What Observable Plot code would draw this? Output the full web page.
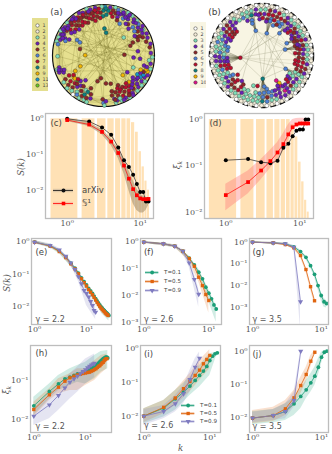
<!DOCTYPE html>
<html><head><meta charset="utf-8">
<script src="https://cdn.jsdelivr.net/npm/d3@7"></script>
<script src="https://cdn.jsdelivr.net/npm/@observablehq/plot@0.6"></script>
<style>
html,body{margin:0;padding:0;background:#fff}
#root{position:relative;width:332px;height:454px;overflow:hidden;background:#fff}
#root>svg,#root>div{position:absolute}
.lab{font-family:"DejaVu Serif",serif;font-style:italic;font-size:8.5px;color:#555;white-space:nowrap;line-height:1}
.let{font-family:"DejaVu Sans",sans-serif;font-size:9px;color:#444;line-height:1}
</style></head><body><div id="root"></div>
<script>
// ---------- network (a): [angle deg, radius, class]
const classesA=[1,2,3,4,5,6,7,8,9,11,13];
const classesB=[1,2,3,4,5,6,7,8,9,10];
const classColors=["#ffffff","#f4ecd8","#7fdcb8","#6a1fb5","#8c2828","#4f82d6","#b8102e","#0d8080","#f0b400","#1596cc","#6cc81e","#e0108a"];
const classOrder=[1,2,3,4,5,6,7,8,9,11,13,10];
const nodesA=[[22,.93,4],[25,.85,5],[27,.95,4],[30,.88,4],[33,.93,3],[35,.82,5],[37,.96,4],[39,.87,4],[42,.92,6],[44,.8,6],[46,.95,3],[48,.88,4],[50,.93,4],[52,.78,5],[54,.96,3],[56,.86,4],[58,.91,4],[60,.97,3],[62,.82,6],[64,.9,4],[66,.95,3],[68,.87,4],[70,.8,4],[72,.94,6],[74,.86,5],[76,.97,3],[78,.9,5],[80,.84,7],[82,.95,4],[84,.88,8],[86,.8,8],[88,.95,11],[90,.88,8],[92,.96,3],[94,.84,5],[96,.92,7],[98,.85,7],[100,.95,4],[102,.88,5],[104,.8,7],[106,.94,4],[108,.86,7],[110,.97,3],[112,.9,5],[114,.82,5],[116,.93,4],[118,.86,5],[120,.96,4],[122,.78,7],[124,.9,7],[126,.84,5],[128,.95,4],[130,.88,7],[132,.8,5],[134,.93,4],[136,.86,7],[138,.96,3],[140,.9,4],[142,.82,7],[144,.94,4],[146,.87,5],[148,.92,4],[150,.97,3],[152,.88,4],[154,.93,4],[156,.82,4],[158,.95,3],[160,.9,4],[163,.96,3],[166,.92,6],[195,.9,4],[197,.95,3],[199,.88,4],[201,.93,4],[203,.85,4],[210,.78,7],[212,.88,5],[214,.94,3],[216,.72,9],[218,.82,7],[220,.9,5],[222,.96,3],[224,.78,7],[226,.87,5],[228,.93,3],[230,.8,4],[232,.97,1],[234,.88,3],[236,.93,6],[238,.82,5],[240,.96,3],[242,.9,5],[244,.85,8],[246,.95,3],[248,.9,5],[250,.97,3],[253,.88,4],[269,.86,5],[270,.93,6],[271,.98,3],[273,.9,4],[282,.8,5],[284,.88,4],[285,.96,3],[287,.92,4],[290,.84,5],[292,.95,3],[294,.78,7],[296,.88,7],[298,.94,4],[300,.82,5],[302,.97,3],[304,.9,7],[306,.85,7],[308,.93,4],[310,.78,7],[312,.88,5],[314,.96,3],[316,.83,9],[318,.92,4],[320,.86,4],[322,.95,3],[324,.8,4],[326,.9,4],[328,.96,3],[330,.84,11],[332,.91,4],[334,.87,11],[336,.95,4],[338,.85,5],[340,.92,9],[342,.88,9],[344,.96,3],[346,.82,4],[350,.94,4],[354,.9,3],[358,.96,3],[3,.93,4],[10,.92,5],[14,.95,4],[18,.88,5],
[83.5,.45,8],[88,.53,8],[91,.77,8],[41.6,.53,3],[2,.41,5],[7,.68,4],[356,.59,4],[355,.72,4],[179,.36,9],[164.5,.48,5],[205,.5,9],[208.7,.63,9],[181,.9,3],[149.6,.6,6],[151,.53,6],[224,.7,13],[263.5,.45,5],[257,.52,5],[228,.67,4],[234,.6,4],[284.5,.57,5],[275,.55,5],[314.5,.54,9],[314,.72,9],[296,.65,5],[338,.63,3],[325,.57,4],[20,.56,5],[24,.63,5],[29,.75,5],[249,.69,5],
[24,.74,5],[28,.8,5],[32,.72,4],[38,.77,6],[47,.72,4],[55,.76,4],[63,.7,6],[69,.74,5],[77,.78,7],[95,.74,7],[99,.77,5],[103,.7,7],[107,.75,5],[111,.78,7],[115,.71,5],[119,.74,7],[125,.72,7],[129,.76,5],[133,.7,4],[137,.75,7],[141,.73,4],[145,.77,4],[155,.74,4],[159,.8,6],[213,.7,7],[219,.72,9],[223,.68,7],[227,.76,5],[233,.74,4],[237,.72,5],[243,.76,3],[247,.78,8],[252,.8,5],[283,.72,5],[288,.76,5],[293,.7,7],[297,.74,7],[301,.72,5],[305,.76,7],[309,.7,7],[311,.84,4],[315,.8,4],[319,.76,4],[323,.72,4],[327,.8,4],[331,.76,11],[335,.8,4],[339,.78,9],[345,.88,4],[200,.82,4],[198,.92,4],[285,.9,5],[291,.9,3],[295,.96,4],[303,.93,5],[307,.97,4],[60,.86,4],[34,.9,4],[45,.9,4],[57,.95,4],[65,.93,4],[71,.88,4],[87,.92,8],[101,.9,7],[105,.86,5],[109,.91,4],[117,.89,7],[121,.86,5],[127,.9,4],[131,.94,4],[135,.9,5],[143,.88,4],[147,.95,4],[153,.9,4],[157,.87,4]];
// chords of (a): [angle1, radius1, angle2, radius2]
const linksA=[[160,.9,340,.85],[130,.85,300,.85],[120,.8,320,.85],[100,.85,290,.8],[110,.85,315,.75],[140,.85,20,.7],[150,.88,40,.85],[165,.5,2,.41],[179,.36,2,.41],[179,.36,60,.85],[179,.36,100,.85],[179,.36,300,.8],[205,.5,2,.41],[205,.5,30,.85],[164.5,.48,40,.9],[164.5,.48,290,.85],[215,.7,45,.85],[225,.8,70,.85],[235,.85,60,.85],[245,.9,35,.85],[222,.8,110,.85],[200,.9,50,.9],[200,.9,340,.85],[195,.9,20,.9],[181,.9,80,.9],[181,.9,330,.85],[166,.9,5,.9],[263.5,.45,80,.85],[263.5,.45,125,.85],[257,.52,60,.85],[275,.55,100,.9],[284.5,.57,130,.9],[296,.65,110,.85],[314.5,.54,120,.85],[314,.72,145,.85],[325,.57,155,.88],[338,.63,135,.9],[355,.72,150,.9],[7,.68,160,.9],[20,.56,240,.85],[29,.75,225,.85],[41.6,.53,235,.85],[52,.78,250,.9],[70,.8,255,.85],[88,.53,270,.86],[83.5,.45,285,.85],[91,.77,290,.85],[105,.85,269,.86],[90,.85,305,.9],[75,.85,320,.9],[55,.85,300,.85],[115,.85,230,.85],[135,.85,245,.9],[60,.9,210,.8],[45,.85,335,.88],[25,.85,300,.8],[15,.9,280,.85],[125,.85,215,.8],[145,.85,350,.9],[170,.9,315,.8]];
// ---------- network (b)
const nodesB=[[0,.96,1],[1,.88,3],[2,.8,4],[3,.72,5],[6,.97,2],[7,.9,3],[8,.82,4],[9,.75,7],[12,.97,1],[13,.89,3],[14,.82,5],[15,.75,4],[16,.67,5],[19,.96,2],[20,.9,4],[21,.82,7],[22,.74,5],[25,.97,1],[26,.88,3],[27,.8,4],[28,.72,5],[31,.96,2],[32,.88,3],[33,.8,4],[34,.7,4],[37,.97,1],[38,.9,3],[39,.82,5],[40,.73,7],[43,.96,2],[44,.88,3],[45,.8,4],[46,.72,4],[49,.97,1],[50,.89,3],[51,.8,4],[54,.96,2],[55,.88,4],[56,.8,5],[57,.72,6],[60,.97,1],[61,.89,3],[62,.8,7],[63,.72,6],[66,.96,2],[67,.88,7],[68,.8,5],[69,.62,6],[72,.97,1],[73,.89,4],[74,.8,7],[75,.72,6],[78,.96,2],[79,.88,5],[80,.8,7],[81,.7,5],[84,.97,1],[85,.89,3],[86,.8,4],[90,.96,2],[91,.88,3],[92,.8,7],[93,.7,4],[96,.97,1],[97,.89,4],[98,.8,4],[102,.96,2],[103,.88,3],[104,.8,8],[105,.7,6],[108,.97,1],[109,.88,3],[110,.8,3],[114,.96,2],[115,.88,3],[116,.8,6],[120,.97,1],[121,.88,2],[122,.8,3],[126,.96,2],[127,.88,3],[132,.97,1],[133,.88,4],[134,.8,4],[135,.72,4],[138,.96,2],[139,.88,5],[140,.8,7],[141,.72,5],[144,.97,1],[145,.89,4],[146,.81,5],[147,.73,7],[150,.96,2],[151,.88,3],[152,.8,4],[153,.72,4],[156,.97,1],[157,.89,3],[158,.81,6],[162,.96,2],[163,.88,6],[164,.8,3],[165,.72,6],[168,.97,1],[169,.89,3],[170,.81,3],[171,.73,3],[174,.96,2],[175,.88,3],[176,.8,6],[180,.97,1],[181,.89,4],[182,.81,4],[183,.73,6],[186,.96,2],[187,.88,4],[188,.8,4],[189,.72,4],[192,.97,1],[193,.89,3],[194,.81,7],[195,.73,7],[198,.96,2],[199,.88,3],[200,.8,6],[201,.71,7],[204,.97,1],[205,.89,3],[206,.81,3],[210,.96,2],[211,.88,3],[212,.8,4],[213,.72,6],[216,.97,1],[217,.89,3],[218,.81,4],[219,.59,7],[222,.96,2],[223,.88,4],[224,.8,5],[225,.72,7],[228,.97,1],[229,.89,3],[230,.81,5],[232.5,.62,4],[234,.96,2],[235,.88,3],[236,.8,7],[237,.72,7],[240,.97,1],[241,.89,3],[242,.81,4],[246,.96,2],[247,.88,3],[248,.8,3],[252,.97,1],[253,.89,3],[254,.8,3],[255,.6,3],[258,.96,2],[259,.88,3],[260,.8,3],[262.6,.59,7],[264,.97,1],[265,.89,3],[266,.81,3],[270,.96,2],[271,.88,8],[272,.8,6],[273,.45,8],[274,.72,6],[276,.97,1],[277,.89,6],[278,.81,5],[279,.65,6],[282,.96,2],[283,.88,3],[284,.8,6],[288,.97,1],[289,.89,3],[290,.81,4],[294,.96,2],[295,.88,4],[296,.8,4],[297,.72,4],[300,.97,1],[300.5,.56,10],[301,.89,4],[302,.68,10],[303,.63,9],[304,.81,10],[306,.96,2],[307,.88,4],[308,.8,4],[312,.97,1],[313,.89,3],[314,.81,5],[315,.72,7],[318,.96,2],[319,.88,3],[320,.8,4],[321,.7,4],[324,.97,1],[325,.89,3],[326,.81,4],[327,.72,3],[330,.96,2],[331,.53,6],[332,.88,3],[333,.8,3],[336,.97,1],[337,.89,4],[338,.81,5],[342,.96,2],[343,.88,5],[344,.8,7],[345,.72,7],[348,.97,1],[349,.89,4],[350,.81,7],[351,.72,7],[354,.96,2],[355,.88,3],[356,.8,5],[186,.41,7],[103,.49,6],[76.6,.44,6],[51,.55,6],[26,.54,6],[14,.47,6],
[4,.65,7],[11,.7,5],[17,.72,4],[23,.68,5],[29,.66,4],[35,.76,5],[41,.67,7],[47,.66,4],[58,.66,6],[64,.66,5],[70,.72,7],[76,.68,6],[82,.66,4],[88,.72,7],[94,.78,4],[106,.64,6],[112,.72,4],[128,.8,4],[136,.66,7],[142,.66,5],[148,.66,7],[154,.66,4],[159,.73,4],[166,.66,6],[172,.66,6],[178,.72,3],[184,.66,4],[190,.66,4],[196,.66,7],[202,.64,7],[207,.73,3],[214,.66,6],[220,.72,5],[226,.66,7],[238,.66,5],[243,.73,3],[249,.72,3],[261,.72,3],[267,.73,6],[275,.6,6],[281,.72,6],[287,.72,6],[291,.72,4],[298,.66,4],[305,.72,4],[309,.72,4],[316,.66,7],[322,.64,4],[328,.64,3],[334,.72,3],[339,.72,5],[346,.66,7],[352,.66,7],[357,.72,5]];
// hub fans of (b): hub angle, hub radius, rim angles
const fanHubs=[[186,.41],[103,.49],[76.6,.44],[51,.55],[26,.54],[14,.47],[331,.53],[273,.45],[300.5,.56]];
const fanTargets=[[170,174,177,180,182,184,186,188,190,193,197],[100,102,104,106,108,111],[72,74,76,78,80,83],[47,49,51,53,55],[20,22,24,27,30],[8,10,12,14,16,18],[326,328,331,334,336],[266,268,270,272,274,276,278,280],[295,298,301,304]];
const chordsB=[[186,.41,273,.45],[103,.49,273,.45],[76.6,.44,331,.53],[76.6,.44,273,.45],[186,.41,14,.47],[103,.49,186,.41],[51,.55,186,.41],[26,.54,262.6,.59],[14,.47,273,.45],[331,.53,273,.45],[51,.55,273,.45],[186,.41,76.6,.44],[103,.49,331,.53],[219,.59,76.6,.44],[232.5,.62,103,.49],[300.5,.56,76.6,.44],[186,.41,331,.53]];

// ---------- degree histogram (shared by c, d)
const histK=[1,2,3,4,5,6,7,8,9,10,11,12,13];
const histP=[1,1,1,1,1,1,1,.78,.42,.12,.045,.018,.01];
// ---------- (c)
const cBlack=[1,.84,.57,.355,.158,.069,.045,.027,.015,.0089,.0089,.0048,.0048];
const cRed=[.92,.69,.43,.23,.11,.049,.021,.0107,.0072,.0059,.0056,.0056,.0057];
const cHi=[1,.77,.5,.275,.144,.068,.0355,.0186,.011,.0079,.0068,.0063,.0061];
const cLo=[.84,.61,.355,.179,.079,.0288,.0098,.0042,.0027,.0023,.0023,.0027,.0037];
// ---------- (d)
const dBlack=[.132,.14,.12,.114,.128,.245,.30,.437,.57,.61,.61,1,1];
const dRed=[.0233,.0445,.079,.126,.194,.294,.477,.68,.78,.82,.82,.82,.82];
const dHi=[.04,.0775,.137,.216,.32,.5,.77,1,1.05,1.07,1.07,1.05,1.03];
const dLo=[.0107,.0245,.05,.087,.132,.215,.34,.585,.69,.72,.75,.75,.75];
// ---------- (e) gamma 2.2
const e1=[.96,.74,.51,.335,.215,.152,.107,.076,.058,.046,.036,.03,.0255,.021,.0175,.0148,.0128,.0112,.0099,.009,.0082,.0076,.007,.0065,.0061,.0057,.0053];
const e5=[.95,.72,.49,.32,.205,.144,.101,.071,.054,.0425,.033,.0275,.023,.019,.0158,.0133,.0115,.01,.0089,.0081,.0074,.0069,.0063,.0059,.0056,.0053];
const e9=[.95,.75,.55,.353,.22,.137,.083,.05,.031,.025,.0195,.0143,.0107,.0075,.0067];
const eBandK1=[1,2,3,5,7,10,15,20,27], eBandK5=[1,2,3,5,7,10,15,20,26], eBandK9=[1,2,3,5,7,10,15];
const e1Hi=[1.07,.81,.57,.24,.128,.054,.0194,.0102,.0064], e1Lo=[.85,.63,.42,.17,.084,.033,.0123,.0059,.0036];
const e5Hi=[1.05,.79,.55,.23,.12,.048,.018,.0095,.0064], e5Lo=[.87,.65,.44,.18,.09,.037,.0137,.0071,.0047];
const e9Hi=[1.05,.85,.62,.26,.114,.035,.0107], e9Lo=[.87,.65,.47,.18,.059,.0107,.004];
// ---------- (f) gamma 2.6
const f1=[.945,.83,.67,.437,.24,.135,.072,.041,.02,.012,.0074,.0044,.0031];
const f5=[.945,.83,.67,.437,.232,.12,.047,.023,.0107,.0064];
const f9=[.945,.83,.67,.437,.16,.039,.011];
const fK1=[1,3,5,7,10,13], fK5=[1,3,5,7,10], fK9=[1,3,4,5,6,7];
const f1Hi=[1.03,.75,.285,.096,.0163,.0041], f1Lo=[.87,.6,.196,.054,.0058,.001];
const f5Hi=[1.03,.75,.285,.072,.0113], f5Lo=[.87,.6,.18,.031,.0022];
const f9Hi=[1.03,.75,.504,.226,.063,.0174], f9Lo=[.87,.6,.348,.111,.0174,.0036];
// ---------- (g) gamma 3.5
const g1=[1,.93,.84,.61,.37,.2,.083,.033,.01,.0035,.0018,.0015];
const g5=[1,.93,.78,.55,.243,.055,.0089,.002];
const g9=[1,.93,.84,.59,.0018];
const gK1=[1,3,4,5,6,7,8,9,10,11,12], gK5=[1,3,4,5,6,7,8], gK9=[1,3,4,5];
const g1Hi=[1.07,.93,.7,.44,.24,.1,.041,.0143,.0049,.0026,.002], g1Lo=[.93,.75,.49,.3,.158,.063,.0243,.0065,.002,.001,.00093];
const g5Hi=[1.07,.93,.65,.31,.07,.012,.0029], g5Lo=[.93,.7,.46,.19,.041,.0065,.0014];
const g9Hi=[1.07,.93,.7,.0029], g9Lo=[.93,.75,.49,.0001];
// ---------- (h) gamma 2.2
const h1=[.0227,.0525,.082,.11,.122,.134,.148,.15,.163,.17,.18,.19,.2,.21,.23,.24,.255,.28,.3,.32,.34,.36,.37,.385,.39,.39,.375];
const h5=[.0183,.0433,.0676,.096,.117,.129,.139,.145,.151,.155,.16,.163,.173,.18,.19,.2,.215,.23,.24,.26,.28,.29,.32,.34,.36,.36];
const h9=[.0124,.024,.0417,.065,.091,.11,.129,.15,.17,.187,.21,.23,.25,.265,.275];
const h1Hi=[.0377,.082,.134,.2,.24,.29,.43,.55,.58], h1Lo=[.0129,.034,.056,.075,.09,.082,.11,.163,.2];
const h5Hi=[.028,.0614,.11,.148,.2,.2,.32,.43,.47], h5Lo=[.0117,.031,.046,.056,.056,.075,.1,.148,.2];
const h9Hi=[.019,.046,.075,.148,.22,.355,.47], h9Lo=[.0072,.0106,.0172,.034,.05,.082,.12];
// ---------- (i) gamma 2.6
const i1=[.0102,.0176,.033,.052,.079,.116,.163,.219,.30,.45,.607,.71,.76];
const i5=[.0102,.0185,.035,.066,.108,.163,.234,.36,.484,.635];
const i9=[.0102,.014,.0237,.0466,.124,.287,.53];
const iK1=[1,2,3,5,7,10,13], iK5=[1,2,3,5,7,10], iK9=[1,2,3,4,5,6,7];
const i1Hi=[.0168,.0297,.0586,.145,.32,.71,.8], i1Lo=[.0061,.0096,.0151,.0417,.0736,.163,.71];
const i5Hi=[.0168,.0297,.0586,.182,.452,.93], i5Lo=[.0065,.012,.0211,.0524,.116,.257];
const i9Hi=[.0161,.0211,.0417,.0824,.229,.506,.8], i9Lo=[.0054,.0085,.0135,.0237,.0524,.13,.257];
// ---------- (j) gamma 3.5
const j1=[.0098,.0117,.0155,.0263,.0437,.069,.112,.178,.33,.66,.93,1];
const j5=[.0098,.0117,.0186,.0398,.093,.2,.5,.93];
const j9=[.0098,.0117,.0155,.033,1];
const jK1=[1,2,3,4,5,6,7,8,9,10,11,12], jK5=[1,2,3,4,5,6,7,8], jK9=[1,2,3,4,5];
const j1Hi=[.0155,.0178,.0263,.0417,.0741,.132,.209,.331,.589,.93,1.05,1.05], j1Lo=[.0062,.0071,.0083,.0117,.0186,.0372,.0589,.0933,.186,.417,.83,.93];
const j5Hi=[.0166,.0209,.0331,.0661,.166,.331,.741,1.05], j5Lo=[.0066,.0078,.0117,.0234,.0525,.117,.331,.776];
const j9Hi=[.0148,.0178,.0263,.0589,1.05], j9Lo=[.0071,.0083,.0093,.0209,.93];
// ---------- legends
const tLabels=["T=0.1","T=0.5","T=0.9"];
const dataLabels=["arXiv","𝕊¹"];

// ========== drawing helpers ==========
const root=document.getElementById("root");
const GREEN="#1b9e77",ORANGE="#e0640f",PURPLE="#7f7bc0";
const SYM=[["circle",0,GREEN],["square",0,ORANGE],["triangle",180,PURPLE]];
const sup={"1":"¹","0":"⁰","-1":"⁻¹","-2":"⁻²","-3":"⁻³"};
const tick=d=>"10"+sup[Math.round(Math.log10(d))];
const place=(el,x,y)=>{el.style.position="absolute";el.style.left=x+"px";el.style.top=y+"px";root.appendChild(el);};
const rows=a=>a.map((v,i)=>({k:i+1,v}));
const band=(k,lo,hi)=>k.map((kk,i)=>({k:kk,lo:lo[i],hi:hi[i]}));

function panel(c,marks){
  const mL=30,mR=4,mT=2,mB=13;
  const [L,R,T,B]=c.frame;
  const plot=Plot.plot({
    width:R-L+mL+mR,height:B-T+mT+mB,marginLeft:mL,marginRight:mR,marginTop:mT,marginBottom:mB,
    x:{type:"log",domain:[10**((L-c.x0)/c.xd),10**((R-c.x0)/c.xd)]},
    y:{type:"log",domain:[10**((c.y0-B)/c.yd),10**((c.y0-T)/c.yd)]},
    style:{background:"transparent",fontFamily:"DejaVu Serif",fontSize:"8px",color:"#555",overflow:"visible"},
    marks:[...marks,
      Plot.frame({stroke:"#bdbdbd",strokeWidth:1.3}),
      Plot.axisX([1,10],{tickSize:0,tickPadding:1.5,tickFormat:tick,label:null}),
      Plot.axisY(c.yt,{tickSize:0,tickPadding:2,tickFormat:tick,label:null}),
      Plot.text([c.letter],{frameAnchor:"top-left",dx:c.lx,dy:c.ly,textAnchor:"start",lineAnchor:"middle",fontFamily:"DejaVu Sans",fontSize:8.5,fill:"#444"}),
      ...(c.gamma?[Plot.text([c.gamma],{frameAnchor:"top-left",dx:c.gx,dy:c.gy,textAnchor:"start",lineAnchor:"middle",fontFamily:"DejaVu Sans",fontSize:8,fill:"#555"})]:[])
    ]});
  place(plot,L-mL,T-mT);
}
function trio(s){
  const out=[];
  s.forEach((d,i)=>out.push(Plot.areaY(band(d.bk,d.lo,d.hi),{x:"k",y1:"lo",y2:"hi",fill:SYM[i][2],fillOpacity:.2,clip:true})));
  s.forEach((d,i)=>{
    out.push(Plot.line(rows(d.v),{x:"k",y:"v",stroke:SYM[i][2],strokeWidth:.8}));
    out.push(Plot.dot(rows(d.v),{x:"k",y:"v",symbol:()=>SYM[i][0],rotate:SYM[i][1],r:1.9,fill:SYM[i][2]}));
  });
  return out;
}
function histMarks(){
  const h=histK.map((k,i)=>({a:k-.4,b:k+.4,p:histP[i]}));
  return [Plot.rect(h,{x1:"a",x2:"b",y1:()=>1e-4,y2:"p",fill:"#ffe1b5",clip:true})];
}
function lineLegend(x,y,labels,colors,syms,opt){
  const w=opt.w,h=opt.step*(labels.length-1)+8;
  const rowsL=labels.map((t,i)=>({t,i}));
  const p=Plot.plot({width:w,height:h,margin:0,
    x:{domain:[0,w],range:[0,w],axis:null},
    y:{type:"point",domain:labels.map((_,i)=>i),range:[4,h-4],padding:0,axis:null},
    style:{background:"transparent",overflow:"visible"},
    marks:[
      Plot.ruleY(rowsL,{y:"i",x1:0,x2:opt.len,stroke:d=>colors[d.i],strokeWidth:opt.bw,strokeOpacity:.28}),
      Plot.ruleY(rowsL,{y:"i",x1:0,x2:opt.len,stroke:d=>opt.line?opt.line[d.i]:colors[d.i],strokeWidth:.8}),
      ...rowsL.map(d=>Plot.dot([d],{x:()=>opt.len/2,y:"i",r:opt.r,symbol:()=>syms[d.i][0],rotate:syms[d.i][1],fill:opt.line?opt.line[d.i]:colors[d.i]})),
      Plot.text(rowsL,{x:()=>opt.tx,y:"i",text:"t",textAnchor:"start",fontFamily:"DejaVu Sans",fontSize:opt.fs,fill:"#444"})
    ]});
  place(p,x,y-4);
}
function disc(nodes,links,c){
  const pad=3,S=2*c.R+2*pad;
  const pt=([t,r])=>[r*Math.cos(t*Math.PI/180),r*Math.sin(t*Math.PI/180)];
  const n=nodes.map(d=>{const [x,y]=pt(d);return {x,y,c:d[2]};});
  const l=links.map(d=>{const [x1,y1]=pt([d[0],d[1]]),[x2,y2]=pt([d[2],d[3]]);return {x1,y1,x2,y2};});
  const ring=n.slice(0,c.localN);
  const local=ring.flatMap((d,i)=>[3,7].filter(s=>i+s<ring.length).map(s=>({x1:d.x,y1:d.y,x2:ring[i+s].x,y2:ring[i+s].y})));
  const p=Plot.plot({width:S,height:S,margin:0,
    x:{domain:[-1,1],range:[pad,S-pad],axis:null},
    y:{domain:[-1,1],range:[S-pad,pad],axis:null},
    color:{type:"ordinal",domain:classOrder,range:classColors},
    style:{background:"transparent",overflow:"visible"},
    marks:[
      Plot.dot([{x:0,y:0}],{x:"x",y:"y",r:c.R,fill:c.bg,stroke:"#111",strokeWidth:c.bw,strokeDasharray:c.dash}),
      Plot.link(local,{x1:"x1",y1:"y1",x2:"x2",y2:"y2",stroke:c.edge,strokeOpacity:c.localOp,strokeWidth:.5}),
      Plot.link(l,{x1:"x1",y1:"y1",x2:"x2",y2:"y2",stroke:c.edge,strokeOpacity:c.chordOp,strokeWidth:.5}),
      ...(c.extra||[]),
      Plot.dot(n,{x:"x",y:"y",r:c.nr,fill:"c",stroke:"#2a2a2a",strokeWidth:.4})
    ]});
  place(p,c.cx-c.R-pad,c.cy-c.R-pad);
}
function nodeLegend(x,y,w,h,classes,dx,tx,m,bg){
  const d=classes.map(c=>({c}));
  const p=Plot.plot({width:w,height:h,margin:0,
    x:{domain:[0,w],range:[0,w],axis:null},
    y:{type:"point",domain:classes,range:[m,h-m],padding:0,axis:null},
    color:{type:"ordinal",domain:classOrder,range:classColors},
    style:{background:"transparent"},
    marks:[
      Plot.dot(d,{x:()=>dx,y:"c",r:1.7,fill:"c",stroke:"#333",strokeWidth:.5}),
      Plot.text(d,{x:()=>tx,y:"c",text:"c",textAnchor:"start",fontFamily:"DejaVu Sans",fontSize:4.8,fill:"#444"})
    ]});
  const wrap=document.createElement("div");
  wrap.style.cssText=`width:${w}px;height:${h}px;background:${bg}`;
  wrap.appendChild(p);place(wrap,x,y);
}
function html(txt,cls,x,y,rot){
  const e=document.createElement("div");e.className=cls;e.innerHTML=txt;place(e,x,y);
  e.style.transform=`translate(-50%,-50%)${rot?" rotate(-90deg)":""}`;
}

// ========== networks ==========
disc(nodesA,linksA,{R:51,cx:102.7,cy:54.5,bg:"#e6e08f",bw:1.2,edge:"#6f6a20",chordOp:.42,localOp:.3,nr:2,localN:145});
nodeLegend(32,18,16,73,classesA,5,10,3,"#e4df90");
html("(a)","let",56.5,12);
const fanRows=[];
fanHubs.forEach((h,i)=>fanTargets[i].forEach(t=>{const a=h[0]*Math.PI/180,b=t*Math.PI/180;fanRows.push({x1:h[1]*Math.cos(a),y1:h[1]*Math.sin(a),x2:.85*Math.cos(b),y2:.85*Math.sin(b)});}));
disc(nodesB,chordsB,{R:52,cx:260.7,cy:55,bg:"#f8f5e3",bw:1.5,dash:"6,3.5",edge:"#8f8f70",chordOp:.55,localOp:.35,nr:2,localN:230,
  extra:[Plot.link(fanRows,{x1:"x1",y1:"y1",x2:"x2",y2:"y2",stroke:"#3f3f20",strokeOpacity:.6,strokeWidth:.6})]});
nodeLegend(190,21.7,16,66,classesB,5,10,3,"#f8f5e3");
html("(b)","let",214.5,12);

// ========== (c) (d) ==========
panel({frame:[45,153,113,218],x0:66.7,xd:73,y0:118.3,yd:35.7,yt:[1,.1,.01],letter:"(c)",lx:5,ly:10},[
  ...histMarks(),
  Plot.areaY(band(histK,cLo,cHi),{x:"k",y1:"lo",y2:"hi",fill:"#a89272",fillOpacity:.6,clip:true}),
  Plot.line(rows(cBlack),{x:"k",y:"v",stroke:"#222",strokeWidth:.7}),
  Plot.line(rows(cRed),{x:"k",y:"v",stroke:"#f00",strokeWidth:.7}),
  Plot.dot(rows(cBlack),{x:"k",y:"v",r:2,fill:"#000"}),
  Plot.dot(rows(cRed),{x:"k",y:"v",r:2.1,symbol:"square",fill:"#f00"})
]);
panel({frame:[204,313,113,218],x0:225.3,xd:74,y0:119,yd:46.3,yt:[1,.1,.01],letter:"(d)",lx:5,ly:10},[
  ...histMarks(),
  Plot.areaY(band(histK,dLo,dHi),{x:"k",y1:"lo",y2:"hi",fill:"#f77",fillOpacity:.38,clip:true}),
  Plot.line(rows(dBlack),{x:"k",y:"v",stroke:"#222",strokeWidth:.7}),
  Plot.line(rows(dRed),{x:"k",y:"v",stroke:"#f00",strokeWidth:.7}),
  Plot.dot(rows(dBlack),{x:"k",y:"v",r:2,fill:"#000"}),
  Plot.dot(rows(dRed),{x:"k",y:"v",r:2.1,symbol:"square",fill:"#f00"})
]);
lineLegend(53,190,dataLabels,["#888","#f88"],[["circle",0],["square",0]],{w:60,step:13.3,len:20,tx:28.5,fs:8.5,r:2,bw:3.5,line:["#111","#f00"]});

// ========== (e)-(j) ==========
panel({frame:[31,111,238,324],x0:34,xd:52,y0:241,yd:32.5,yt:[1,.1,.01],letter:"(e)",lx:4,ly:14,gamma:"γ = 2.2",gx:4,gy:81},trio([
  {v:e1,bk:eBandK1,lo:e1Lo,hi:e1Hi},{v:e5,bk:eBandK5,lo:e5Lo,hi:e5Hi},{v:e9,bk:eBandK9,lo:e9Lo,hi:e9Hi}]));
panel({frame:[140,221,238,324],x0:143.3,xd:65,y0:241,yd:26.9,yt:[1,.1,.01,.001],letter:"(f)",lx:3.5,ly:14,gamma:"γ = 2.6",gx:3.5,gy:81},trio([
  {v:f1,bk:fK1,lo:f1Lo,hi:f1Hi},{v:f5,bk:fK5,lo:f5Lo,hi:f5Hi},{v:f9,bk:fK9,lo:f9Lo,hi:f9Hi}]));
panel({frame:[249,328,238,324],x0:252,xd:68.7,y0:241.7,yd:21.7,yt:[1,.1,.01,.001],letter:"(g)",lx:3,ly:14,gamma:"γ = 3.5",gx:3,gy:81},trio([
  {v:g1,bk:gK1,lo:g1Lo,hi:g1Hi},{v:g5,bk:gK5,lo:g5Lo,hi:g5Hi},{v:g9,bk:gK9,lo:g9Lo,hi:g9Hi}]));
panel({frame:[30,111,345,432],x0:33.3,xd:51.7,y0:340.7,yd:39.3,yt:[.1,.01],letter:"(h)",lx:5,ly:8,gamma:"γ = 2.2",gx:5,gy:81},trio([
  {v:h1,bk:eBandK1,lo:h1Lo,hi:h1Hi},{v:h5,bk:eBandK5,lo:h5Lo,hi:h5Hi},{v:h9,bk:eBandK9,lo:h9Lo,hi:h9Hi}]));
panel({frame:[140,220,345,432],x0:143.3,xd:66,y0:348.3,yd:33.8,yt:[1,.1,.01],letter:"(i)",lx:3.5,ly:9,gamma:"γ = 2.6",gx:3.5,gy:80},trio([
  {v:i1,bk:iK1,lo:i1Lo,hi:i1Hi},{v:i5,bk:iK5,lo:i5Lo,hi:i5Hi},{v:i9,bk:iK9,lo:i9Lo,hi:i9Hi}]));
panel({frame:[249,328,345,432],x0:252,xd:69,y0:350.7,yd:33.3,yt:[1,.1,.01],letter:"(j)",lx:3,ly:9,gamma:"γ = 3.5",gx:3,gy:81},trio([
  {v:j1,bk:jK1,lo:j1Lo,hi:j1Hi},{v:j5,bk:jK5,lo:j5Lo,hi:j5Hi},{v:j9,bk:jK9,lo:j9Lo,hi:j9Hi}]));
lineLegend(145,272,tLabels,[GREEN,ORANGE,PURPLE],SYM,{w:40,step:9.4,len:13.3,tx:18.5,fs:5.6,r:1.9,bw:3});
lineLegend(180.7,404.3,tLabels,[GREEN,ORANGE,PURPLE],SYM,{w:40,step:8.7,len:13.3,tx:18.5,fs:5.6,r:1.9,bw:3});

// ========== axis titles ==========
html("S(k)","lab",20.7,167,true);
html("ξ<sub style='font-size:6px'>k</sub>","lab",178,165,true);
html("S(k)","lab",6.7,283,true);
html("ξ<sub style='font-size:6px'>k</sub>","lab",6.5,390,true);
html("k","lab",180.7,447.5);
</script></body></html>
